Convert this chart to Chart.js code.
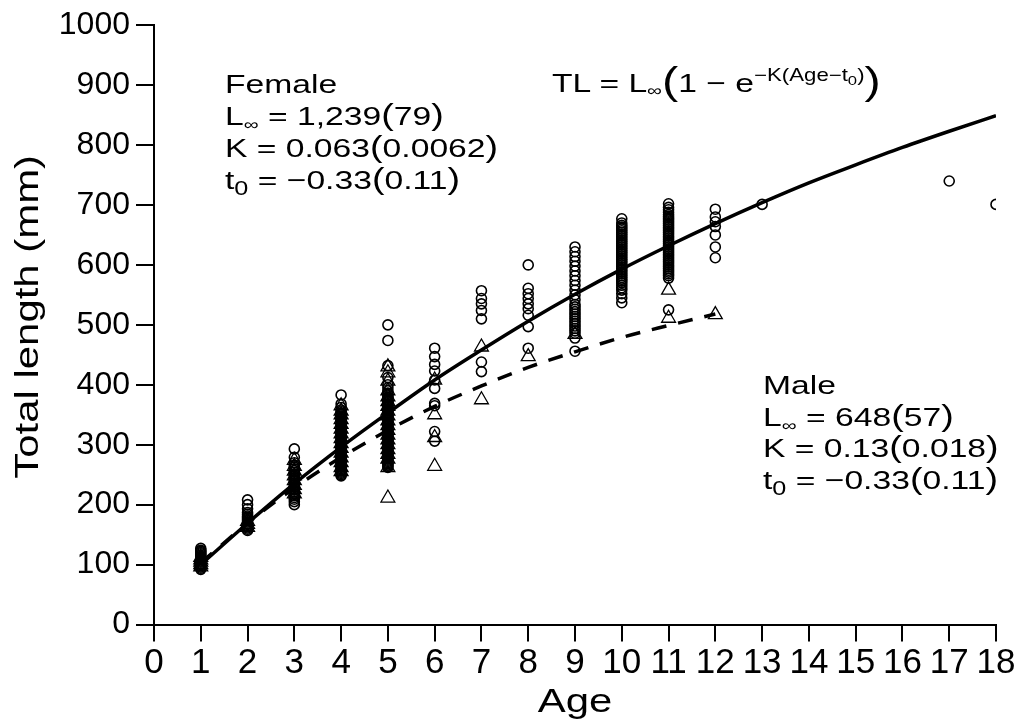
<!DOCTYPE html>
<html>
<head>
<meta charset="utf-8">
<script src="https://cdn.jsdelivr.net/npm/chart.js@4/dist/chart.umd.min.js"></script>
<style>
  html, body { margin: 0; padding: 0; background: #fff; }
  #wrap { position: relative; width: 1023px; height: 723px; }
  #chart { position: absolute; left: 0; top: 0; }
  .note {
    position: absolute; white-space: nowrap; color: #000;
    font-family: 'Liberation Sans', Arial, sans-serif; font-size: 26.5px; line-height: 32px;
    transform: scaleX(1.27); transform-origin: left top;
  }
  .inf { font-size: 0.62em; position: relative; top: 0.3em; line-height: 0; }
  .s0 { font-size: 0.75em; position: relative; top: 0.3em; line-height: 0; }
  .p { font-size: 1.12em; line-height: 0; }
  .bp { font-size: 1.45em; line-height: 0; position: relative; top: 0.06em; }
  .sup { font-size: 0.66em; position: relative; top: -0.62em; line-height: 0; }
</style>
</head>
<body>
<div id="wrap">
  <canvas id="chart" width="1023" height="723"></canvas>

  <div class="note" style="left:225px;top:68px">
    Female<br>
    L<span class="inf">∞</span> = 1,239<span class="p">(</span>79<span class="p">)</span><br>
    K = 0.063<span class="p">(</span>0.0062<span class="p">)</span><br>
    t<span class="s0">0</span> = −0.33<span class="p">(</span>0.11<span class="p">)</span>
  </div>

  <div class="note" style="left:552px;top:66.5px">
    TL = L<span class="inf">∞</span><span class="bp">(</span>1 − e<span class="sup">−K(Age−t<span class="s0">0</span>)</span><span class="bp">)</span>
  </div>

  <div class="note" style="left:763px;top:370px;line-height:31.7px">
    Male<br>
    L<span class="inf">∞</span> = 648<span class="p">(</span>57<span class="p">)</span><br>
    K = 0.13<span class="p">(</span>0.018<span class="p">)</span><br>
    t<span class="s0">0</span> = −0.33<span class="p">(</span>0.11<span class="p">)</span>
  </div>
</div>

<script>
// ages on the x axis
const ages = [1, 2, 3, 4, 5, 6, 7, 8, 9, 10, 11, 12, 13, 14, 15, 16, 17, 18];

// observed total lengths (mm) per age, female (circles)
const femaleLengths = [
  [92, 94, 96, 98, 100, 102, 104, 106, 108, 110, 112, 114, 116, 118, 120, 122, 124, 127],
  [157, 159, 161, 163, 165, 167, 169, 171, 173, 175, 177, 179, 181, 184, 187, 193, 200, 208],
  [200, 205, 209, 212, 215, 218, 221, 224, 227, 230, 233, 236, 239, 242, 245, 248, 251, 254, 257, 260, 263, 266, 270, 279, 293],
  [248, 250, 252, 254, 256, 258, 260, 262, 264, 266, 268, 270, 272, 274, 276, 278, 280, 282, 284, 286, 288, 290, 292, 294, 296, 298,
   300, 302, 304, 306, 308, 310, 312, 314, 316, 318, 320, 322, 324, 326, 328, 330, 332, 334, 336, 338, 340, 342, 344, 346, 348, 350,
   352, 355, 358, 362, 368, 383],
  [262, 264, 266, 268, 270, 272, 274, 276, 278, 280, 282, 284, 286, 288, 290, 292, 294, 296, 298, 300, 302, 304, 306, 308, 310, 312,
   314, 316, 318, 320, 322, 324, 326, 328, 330, 332, 334, 336, 338, 340, 342, 344, 346, 348, 350, 352, 354, 356, 358, 360, 362, 364,
   366, 368, 370, 372, 374, 376, 378, 380, 383, 386, 390, 395, 400, 412, 432, 474, 500],
  [306, 322, 365, 369, 394, 408, 423, 434, 447, 461],
  [422, 438, 510, 524, 535, 544, 557],
  [461, 497, 516, 527, 535, 544, 552, 561, 600],
  [456, 478, 486, 490, 494, 498, 502, 506, 510, 514, 518, 522, 526, 530, 534, 542, 550, 558, 566, 574, 582, 590, 598, 606, 614, 622, 630],
  [537, 545, 552, 558, 562, 566, 570, 573, 576, 579, 582, 585, 588, 591, 594, 597, 600, 603, 606, 609, 612, 615, 618, 621, 624, 627,
   630, 633, 636, 639, 642, 645, 648, 651, 654, 657, 660, 663, 666, 670, 677],
  [525, 578, 582, 585, 588, 591, 594, 597, 600, 603, 606, 609, 612, 615, 618, 621, 624, 627, 630, 633, 636, 639, 642, 645, 648, 651,
   654, 657, 660, 663, 666, 669, 672, 675, 678, 681, 684, 688, 692, 696, 702],
  [612, 630, 650, 664, 672, 680, 693],
  [701],
  [],
  [],
  [],
  [740],
  [701]
];

// observed total lengths (mm) per age, male (triangles)
const maleLengths = [
  [96, 100, 104, 108, 112],
  [162, 167, 172],
  [218, 225, 232, 240, 248, 256, 264, 274],
  [255, 262, 270, 278, 286, 294, 302, 310, 318, 326, 334, 342, 350, 356, 365],
  [211, 262, 276, 284, 292, 300, 308, 316, 324, 332, 340, 348, 356, 364, 372, 380, 390, 406, 420, 430],
  [264, 312, 350, 408],
  [375, 463],
  [447],
  [484],
  [],
  [511, 558],
  [517]
];

// fitted growth curves (mm)
const femaleFit = [100, 169, 235, 296, 353, 408, 458, 506, 551, 593, 632, 669, 704, 737, 767, 796, 823, 849];
const maleFit = [103, 169, 228, 279, 324, 364, 398, 429, 455, 479, 499, 518];

const yTicks = [0, 100, 200, 300, 400, 500, 600, 700, 800, 900, 1000];

const toPoints = (groups) => groups.flatMap((vals, i) => vals.map(v => ({ x: ages[i], y: v })));
const toLine = (vals) => vals.map((v, i) => ({ x: ages[i], y: v }));

// axis titles drawn a bit wider, like the original figure
function drawWideTitle() {
  const t = this.options.title;
  const ctx = this.ctx;
  const area = this.chart.chartArea;
  ctx.save();
  ctx.fillStyle = '#000';
  ctx.font = t.font.size + 'px ' + t.font.family;
  ctx.textAlign = 'center';
  ctx.textBaseline = 'alphabetic';
  if (this.isHorizontal()) {
    ctx.translate((area.left + area.right) / 2, this.bottom - 11);
  } else {
    ctx.translate(this.left + 38, (area.top + area.bottom) / 2 - 8);
    ctx.rotate(-Math.PI / 2);
  }
  ctx.scale(1.27, 1);
  ctx.fillText(t.text, 0, 0);
  ctx.restore();
}

const ctx = document.getElementById('chart').getContext('2d');
new Chart(ctx, {
  type: 'scatter',
  data: {
    datasets: [
      {
        label: 'Female fit',
        type: 'line',
        data: toLine(femaleFit),
        showLine: true,
        borderColor: '#000',
        borderWidth: 3.5,
        pointRadius: 0,
        cubicInterpolationMode: 'monotone',
        order: 0
      },
      {
        label: 'Male fit',
        type: 'line',
        data: toLine(maleFit),
        showLine: true,
        borderColor: '#000',
        borderWidth: 3.5,
        borderDash: [15, 12],
        pointRadius: 0,
        cubicInterpolationMode: 'monotone',
        order: 1
      },
      {
        label: 'Male',
        data: toPoints(maleLengths),
        pointStyle: 'triangle',
        pointRadius: 8,
        borderColor: '#000',
        borderWidth: 1.3,
        backgroundColor: 'rgba(0,0,0,0)',
        order: 2
      },
      {
        label: 'Female',
        data: toPoints(femaleLengths),
        pointStyle: 'circle',
        pointRadius: 5,
        borderColor: '#000',
        borderWidth: 1.6,
        backgroundColor: 'rgba(0,0,0,0)',
        order: 3
      }
    ]
  },
  options: {
    responsive: false,
    animation: false,
    layout: { padding: { top: 22.5, right: 27, bottom: 0, left: 0 } },
    plugins: {
      legend: { display: false },
      tooltip: { enabled: false }
    },
    scales: {
      x: {
        type: 'linear',
        min: 0,
        max: 18,
        afterFit: (scale) => { scale.height = 98.5; scale.drawTitle = drawWideTitle; },
        border: { display: true, color: '#000', width: 2 },
        grid: { drawOnChartArea: false, drawTicks: true, tickLength: 17, color: '#000', lineWidth: 2 },
        ticks: {
          stepSize: 1,
          autoSkip: false,
          maxRotation: 0,
          padding: 1,
          color: '#000',
          font: { family: "'Liberation Sans Narrow', 'Liberation Sans', Arial, sans-serif", size: 35 }
        },
        title: {
          display: true,
          text: 'Age',
          color: '#000',
          font: { family: "'Liberation Sans', Arial, sans-serif", size: 33 }
        }
      },
      y: {
        min: 0,
        max: 1000,
        afterFit: (scale) => { scale.width = 154; scale.drawTitle = drawWideTitle; },
        afterBuildTicks: (scale) => { scale.ticks = yTicks.map(v => ({ value: v })); },
        border: { display: true, color: '#000', width: 2 },
        grid: { drawOnChartArea: false, drawTicks: true, tickLength: 18, color: '#000', lineWidth: 2 },
        ticks: {
          padding: 6,
          color: '#000',
          callback: (v) => String(v),
          font: { family: "'Liberation Sans', Arial, sans-serif", size: 32 }
        },
        title: {
          display: true,
          text: 'Total length (mm)',
          color: '#000',
          font: { family: "'Liberation Sans', Arial, sans-serif", size: 33 }
        }
      }
    }
  }
});
</script>
</body>
</html>
